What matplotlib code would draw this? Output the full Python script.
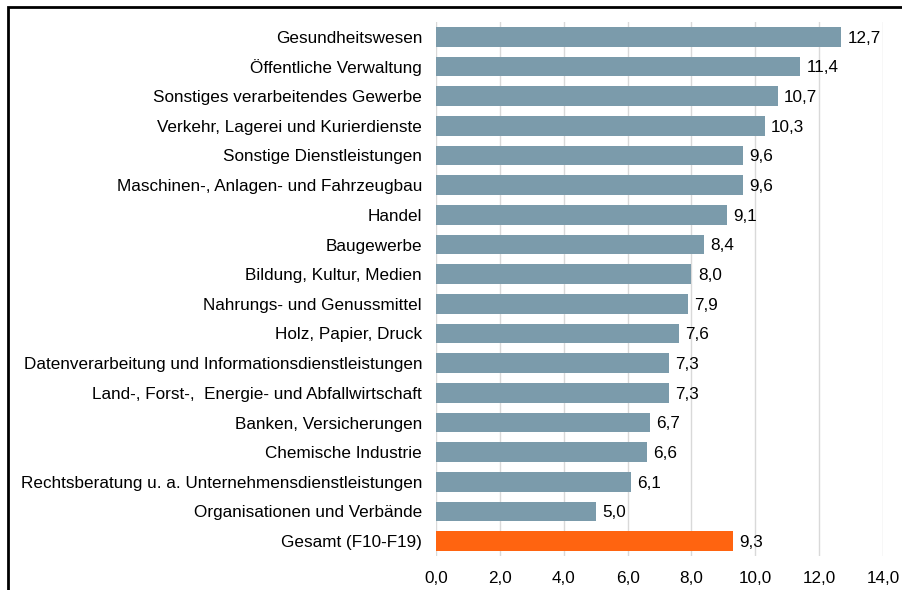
import matplotlib
matplotlib.use("Agg")
import matplotlib.pyplot as plt
from matplotlib.patches import Rectangle

categories = [
    "Gesundheitswesen",
    "Öffentliche Verwaltung",
    "Sonstiges verarbeitendes Gewerbe",
    "Verkehr, Lagerei und Kurierdienste",
    "Sonstige Dienstleistungen",
    "Maschinen-, Anlagen- und Fahrzeugbau",
    "Handel",
    "Baugewerbe",
    "Bildung, Kultur, Medien",
    "Nahrungs- und Genussmittel",
    "Holz, Papier, Druck",
    "Datenverarbeitung und Informationsdienstleistungen",
    "Land-, Forst-,  Energie- und Abfallwirtschaft",
    "Banken, Versicherungen",
    "Chemische Industrie",
    "Rechtsberatung u. a. Unternehmensdienstleistungen",
    "Organisationen und Verbände",
    "Gesamt (F10-F19)",
]
values = [12.7, 11.4, 10.7, 10.3, 9.6, 9.6, 9.1, 8.4, 8.0, 7.9, 7.6, 7.3, 7.3, 6.7, 6.6, 6.1, 5.0, 9.3]
xticks = [0, 2, 4, 6, 8, 10, 12, 14]

FS = 12.3
plt.rcParams['font.family'] = ['Liberation Sans', 'DejaVu Sans']
fig = plt.figure(figsize=(9.03, 5.90), dpi=100)
ax = fig.add_axes([436/903, 1-556/590, (883-436)/903, (556-22)/590])

colors = ['#7b9bab'] * (len(values) - 1) + ['#ff6410']
y = list(range(len(values)))
ax.barh(y, values, height=0.66, color=colors, zorder=3)
for yi, v in zip(y, values):
    ax.text(v + 0.2, yi + 0.05, f"{v:.1f}".replace('.', ','), va='center', ha='left',
            fontsize=FS, color='#000000', zorder=4)

ax.set_xlim(0, 14)
ax.set_ylim(len(values) - 0.5, -0.5)
ax.set_yticks(y)
ax.set_yticklabels(categories, fontsize=FS)
ax.set_xticks(xticks)
ax.set_xticklabels([f"{t:.1f}".replace('.', ',') for t in xticks], fontsize=FS)
ax.tick_params(axis='both', length=0)
ax.tick_params(axis='y', pad=10)
ax.tick_params(axis='x', pad=11)
ax.grid(axis='x', color='#d9d9d9', linewidth=1, zorder=0)
for s in ax.spines.values():
    s.set_visible(False)

fig.patches.append(Rectangle((8/903, -0.1), 1.2, 1 - 7/590 + 0.1, transform=fig.transFigure,
                             fill=False, edgecolor='black', linewidth=2, zorder=10))

fig.savefig('out.png', dpi=100)
